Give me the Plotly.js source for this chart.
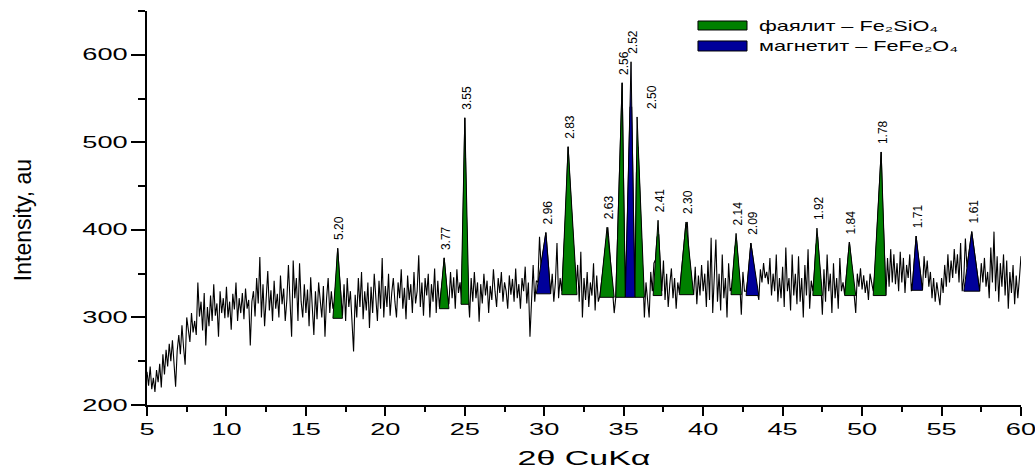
<!DOCTYPE html>
<html><head><meta charset="utf-8">
<script src="https://cdn.plot.ly/plotly-3.0.1.min.js"></script>
<style>
html,body{margin:0;padding:0;background:#fff;}
#chart{width:1035px;height:473px;}
</style></head><body><div id="chart"></div>
<script>
// XRD scan: 2θ from 5° in 0.1° steps
const twoThetaStart = 5;
const twoThetaStep = 0.1;
const intensity = [
238,222,244,218,231,215,240,226,247,220,
258,235,263,244,270,250,274,248,221,262,
280,258,291,266,246,300,286,272,305,283,
296,280,340,301,318,285,328,268,312,290,
325,296,338,302,316,278,330,305,322,299,
335,300,318,286,327,309,340,296,322,305,
328,298,333,310,320,268,318,330,301,345,
316,369,300,338,290,325,353,308,331,296,
342,310,327,300,348,315,333,296,320,360,
312,278,365,322,345,296,362,318,300,338,
305,332,290,346,312,280,330,298,340,318,
300,336,278,322,345,305,330,310,318,345,
379,350,322,302,338,296,345,312,330,290,
261,326,300,345,312,352,298,330,308,340,
288,335,305,350,318,296,342,310,368,300,
336,312,350,302,328,345,318,300,340,322,
355,310,334,298,348,320,338,305,352,316,
330,371,312,340,302,345,325,350,300,338,
318,356,305,342,312,326,345,368,345,326,
315,352,322,346,310,355,328,340,318,430,
528,420,330,300,345,318,352,322,340,295,
338,316,350,325,342,305,336,320,355,330,
312,345,328,352,318,340,330,310,348,326,
344,318,356,322,338,310,345,330,358,316,
340,278,330,360,318,342,340,392,358,372,
385,397,375,350,327,350,318,340,385,322,
345,330,360,400,445,495,460,425,395,365,
332,360,318,375,300,345,320,352,312,340,
325,362,308,348,318,325,338,355,372,390,
403,380,355,335,305,323,380,440,500,568,
440,330,390,465,540,540,430,330,465,495,
450,405,360,300,340,318,300,352,330,362,
366,392,395,360,330,365,320,350,312,338,
356,322,345,310,340,328,345,365,385,405,
409,375,355,335,326,358,315,348,325,360,
330,350,312,365,320,391,305,340,389,318,
350,308,372,322,345,300,362,330,335,355,
380,388,365,340,303,352,330,330,342,362,
385,372,355,342,330,320,355,340,362,345,
352,338,368,325,350,330,372,318,345,322,
358,312,380,330,345,308,372,325,350,315,
370,318,345,300,360,325,378,310,342,330,
352,382,392,368,340,303,355,318,372,330,
350,305,362,322,345,310,368,330,340,326,
345,365,386,368,348,330,305,350,335,356,
332,348,328,342,320,350,338,330,350,385,
415,450,489,425,370,325,368,335,378,340,
372,338,362,330,375,340,368,328,360,345,
372,330,345,368,393,375,360,345,331,370,
345,365,335,352,322,345,318,340,325,314,
345,328,360,335,372,340,365,345,378,350,
372,340,385,330,345,390,357,370,384,398,
384,370,355,342,330,362,340,368,335,352,
322,380,340,398,330,370,318,362,335,372,
325,365,310,352,328,360,315,348,322,345,
370
];

// identified reflections
const dSpacing  = ["5.20","3.77","3.55","2.96","2.83","2.63","2.56","2.52","2.50","2.41","2.30","2.14","2.09","1.92","1.84","1.78","1.71","1.61"];
const peakPhase = ["F","F","F","M","F","F","F","M","F","F","F","F","M","F","F","F","M","M"];
const peakPos   = [17.0,23.7,25.0,30.1,31.5,33.95,34.9,35.46,35.84,37.16,38.92,42.07,43.0,47.16,49.2,51.2,53.4,56.9];
const peakTop   = [379,368,528,397,495,403,568,592,529,411,409,396,385,402,386,489,393,398];
const peakBase  = [299,310,315,327,326,323,323,323,323,325,326,326,325,325,325,325,331,330];
const peakLeft  = [16.7,23.4,24.76,29.5,31.1,33.5,34.5,35.1,35.7,36.85,38.5,41.75,42.7,46.9,48.9,50.7,53.14,56.4];
const peakRight = [17.3,24.0,25.26,30.4,32.06,34.4,35.1,35.7,36.3,37.4,39.4,42.4,43.5,47.5,49.6,51.5,53.8,57.4];

const phaseNames = {F: "фаялит – Fe₂SiO₄", M: "магнетит – FeFe₂O₄"};
const phaseColors = {F: "#008000", M: "#00009A"};
const xTitle = "2θ CuKα";
const yTitle = "Intensity, au";

const FONT = "Liberation Sans, Arial, Helvetica, sans-serif";

function polygons(code){
  const xs=[], ys=[];
  peakPos.forEach((p,i)=>{
    if(peakPhase[i]!==code) return;
    xs.push(peakLeft[i], p, peakRight[i], peakLeft[i], null);
    ys.push(peakBase[i], peakTop[i], peakBase[i], peakBase[i], null);
  });
  return {xs, ys};
}

const traces = [{
  type:'scatter', mode:'lines', x0: twoThetaStart, dx: twoThetaStep, y: intensity,
  line:{color:'#000', width:1.1}, showlegend:false, hoverinfo:'skip'
}];
["F","M"].forEach(code=>{
  const p = polygons(code);
  traces.push({type:'scatter', mode:'lines', x:p.xs, y:p.ys, fill:'toself',
    fillcolor: phaseColors[code], line:{color:'#000', width:1}, showlegend:false, hoverinfo:'skip', name: code});
});

const annotations = dSpacing.map((d,i)=>({
  x: peakPos[i], y: peakTop[i], xref:'x', yref:'y', text: d, showarrow:false,
  textangle:-90, yanchor:'bottom', xanchor:'center', yshift:6, xshift: d==="2.50" ? 15 : 2,
  font:{family:FONT, size:12, color:'#000'}
}));

// legend (drawn as boxes + text)
const shapes = [];
[["F",0.9518,0.9746,0.963],["M",0.8985,0.9239,0.911]].forEach(([code,y0,y1,yt])=>{
  shapes.push({type:'rect', xref:'paper', yref:'paper', x0:0.6304, x1:0.6865, y0:y0, y1:y1,
    fillcolor: phaseColors[code], line:{color:'#000', width:1}});
  annotations.push({xref:'paper', yref:'paper', x:0.698, y:yt, xanchor:'left', yanchor:'middle', align:'left',
    text: phaseNames[code], showarrow:false, font:{family:FONT, size:14, color:'#000'}});
});

const layout = {
  width:1035, height:473,
  margin:{l:147, r:14, t:11, b:68, pad:0},
  paper_bgcolor:'#fff', plot_bgcolor:'#fff',
  font:{family:FONT, color:'#000'},
  showlegend:false,
  xaxis:{range:[5,60], tick0:5, dtick:5, ticks:'outside', ticklen:9, tickwidth:2, tickcolor:'#000',
    showline:true, linewidth:2, linecolor:'#000', showgrid:false, zeroline:false, mirror:false,
    ticklabeloverflow:'allow',
    tickfont:{family:FONT, size:16, color:'#000'},
    minor:{dtick:2.5, ticks:'outside', ticklen:5, tickwidth:2, tickcolor:'#000', showgrid:false},
    title:{text:xTitle, font:{family:FONT, size:20, color:'#000'}, standoff:14}},
  yaxis:{range:[200,650], tick0:200, dtick:100, ticks:'outside', ticklen:14, tickwidth:2, tickcolor:'#000',
    showline:true, linewidth:2, linecolor:'#000', showgrid:false, zeroline:false,
    ticklabeloverflow:'allow',
    tickfont:{family:FONT, size:16, color:'#000'},
    minor:{dtick:50, ticks:'outside', ticklen:7, tickwidth:2, tickcolor:'#000', showgrid:false},
    title:{text:yTitle, font:{family:FONT, size:23, color:'#000'}, standoff:40}},
  shapes: shapes,
  annotations: annotations
};

// the reference uses horizontally wide lettering: widen texts about their anchor
function stretchText(el, sx){
  const bb = el.getBBox();
  if(!bb.width) return;
  const anchor = el.getAttribute('text-anchor') || getComputedStyle(el).textAnchor || 'start';
  const cx = anchor==='middle' ? bb.x+bb.width/2 : (anchor==='end' ? bb.x+bb.width : bb.x);
  const t = el.getAttribute('transform') || '';
  el.setAttribute('transform', t + ' translate(' + cx + ',0) scale(' + sx + ',1) translate(' + (-cx) + ',0)');
}

Plotly.newPlot('chart', traces, layout, {staticPlot:true, displayModeBar:false}).then(gd=>{
  gd.querySelectorAll('.xtick text, .ytick text').forEach(t=>stretchText(t, 1.7));
  gd.querySelectorAll('.g-xtitle text').forEach(t=>stretchText(t, 1.7));
  gd.querySelectorAll('.annotation-text').forEach(t=>{
    if(/фаялит|магнетит/.test(t.textContent)) stretchText(t, 1.55);
  });
  const yt = gd.querySelector('.g-ytitle');
  if(yt) yt.setAttribute('transform','translate(-23,12)');
});
</script></body></html>
